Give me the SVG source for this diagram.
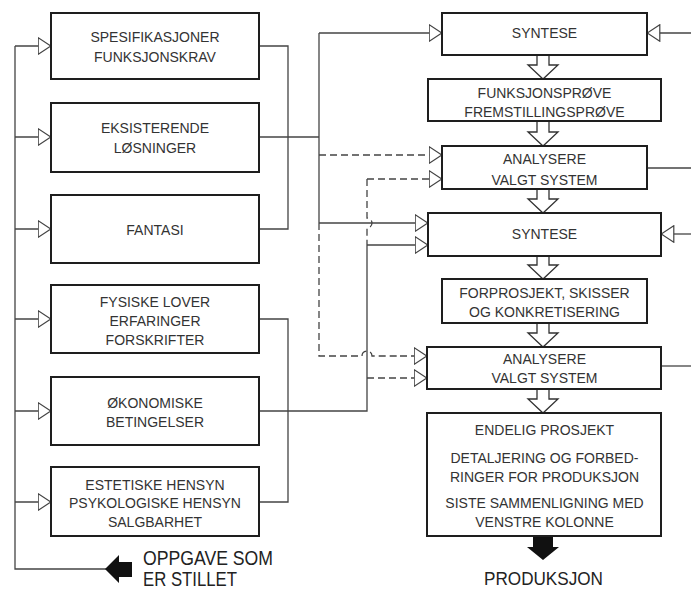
<svg xmlns="http://www.w3.org/2000/svg" width="691" height="590" viewBox="0 0 691 590">
<style>
.box{fill:#fff;stroke:#1e1e1e;stroke-width:2}
.t{font-family:"Liberation Sans",Arial,sans-serif;font-size:14px;fill:#333;text-anchor:middle}
.big{font-family:"Liberation Sans",Arial,sans-serif;font-size:20px;fill:#222}
.c{fill:none;stroke:#444;stroke-width:1.3}
.d{fill:none;stroke:#444;stroke-width:1.3;stroke-dasharray:7 4}
.ar{marker-end:url(#tri)}
.hollow{fill:#fff;stroke:#333;stroke-width:1.3}
.solid{fill:#111;stroke:none}
</style>
<defs>
<marker id="tri" viewBox="0 0 14 18" refX="13.5" refY="9" markerWidth="14" markerHeight="18" markerUnits="userSpaceOnUse" orient="auto">
<path d="M0.7,0.7 L13.3,9 L0.7,17.3 Z" fill="#fff" stroke="#444" stroke-width="1.2" stroke-dasharray="none"/>
</marker>
</defs>
<rect width="691" height="590" fill="#fff"/>

<g id="connectors">
<path class="c" d="M15,46 V569 H106"/>
<path class="c ar" d="M15,46 H51"/>
<path class="c ar" d="M15,137 H51"/>
<path class="c ar" d="M15,229 H51"/>
<path class="c ar" d="M15,319 H51"/>
<path class="c ar" d="M15,411 H51"/>
<path class="c ar" d="M15,502 H51"/>
<path class="c" d="M259,46 H288 V229 H259"/>
<path class="c" d="M259,319 H288 V502 H259"/>
<path class="c" d="M259,137 H319"/>
<path class="c" d="M319,33 V223"/>
<path class="c ar" d="M319,33 H442"/>
<path class="c ar" d="M319,223 H428"/>
<path class="d ar" d="M319,155 H442"/>
<path class="d" d="M367,179 V218 A5,5 0 0 1 367,228 V245"/>
<path class="d ar" d="M367,179 H442"/>
<path class="c" d="M259,411 H367 V245"/>
<path class="c ar" d="M367,245 H428"/>
<path class="d" d="M319,223 V356 H362 A5,5 0 0 1 372,356 H400"/>
<path class="d ar" d="M400,356 H427"/>
<path class="d ar" d="M367,378 H427"/>
<path class="c ar" d="M691,33 H647"/>
<path class="c" d="M647,168 H691"/>
<path class="c ar" d="M691,234 H661"/>
<path class="c" d="M661,366 H691"/>
<polyline class="hollow" points="537,55 537,65 528,65 543,79 558,65 549,65 549,55"/>
<polyline class="hollow" points="537,121 537,132 528,132 543,146 558,132 549,132 549,121"/>
<polyline class="hollow" points="537,189 537,199 528,199 543,213 558,199 549,199 549,189"/>
<polyline class="hollow" points="537,256 537,265 528,265 543,279 558,265 549,265 549,256"/>
<polyline class="hollow" points="537,323 537,333 528,333 543,347 558,333 549,333 549,323"/>
<polyline class="hollow" points="537,389 537,399 528,399 543,413 558,399 549,399 549,389"/>
<polygon class="solid" points="105,569 119,555 119,562 132,562 132,577 119,577 119,583"/>
<polygon class="solid" points="533,536 553,536 553,547 559,547 543,560 527,547 533,547"/>
</g>

<g id="n-spesifikasjoner">
<rect class="box" x="51" y="13" width="208" height="66"/>
<text class="t" x="155" y="42">SPESIFIKASJONER</text>
<text class="t" x="155" y="62">FUNKSJONSKRAV</text>
</g>
<g id="n-eksisterende">
<rect class="box" x="51" y="103" width="208" height="69"/>
<text class="t" x="155" y="133">EKSISTERENDE</text>
<text class="t" x="155" y="153">LØSNINGER</text>
</g>
<g id="n-fantasi">
<rect class="box" x="51" y="195" width="208" height="68"/>
<text class="t" x="155" y="235">FANTASI</text>
</g>
<g id="n-fysiske">
<rect class="box" x="51" y="285" width="208" height="68"/>
<text class="t" x="155" y="307">FYSISKE LOVER</text>
<text class="t" x="155" y="326">ERFARINGER</text>
<text class="t" x="155" y="345">FORSKRIFTER</text>
</g>
<g id="n-okonomiske">
<rect class="box" x="51" y="377" width="208" height="68"/>
<text class="t" x="155" y="408">ØKONOMISKE</text>
<text class="t" x="155" y="427">BETINGELSER</text>
</g>
<g id="n-estetiske">
<rect class="box" x="51" y="467" width="208" height="69"/>
<text class="t" x="155" y="490">ESTETISKE HENSYN</text>
<text class="t" x="155" y="508">PSYKOLOGISKE HENSYN</text>
<text class="t" x="155" y="527">SALGBARHET</text>
</g>
<g id="n-oppgave">
<text class="big" x="143" y="565" textLength="130" lengthAdjust="spacingAndGlyphs">OPPGAVE SOM</text>
<text class="big" x="143" y="586" textLength="94" lengthAdjust="spacingAndGlyphs">ER STILLET</text>
</g>

<g id="n-syntese1">
<rect class="box" x="442" y="13" width="205" height="42"/>
<text class="t" x="544.5" y="38">SYNTESE</text>
</g>
<g id="n-funksjonsprove">
<rect class="box" x="428" y="79" width="233" height="42"/>
<text class="t" x="544.5" y="98">FUNKSJONSPRØVE</text>
<text class="t" x="544.5" y="117">FREMSTILLINGSPRØVE</text>
</g>
<g id="n-analysere1">
<rect class="box" x="442" y="146" width="205" height="43"/>
<text class="t" x="544.5" y="164">ANALYSERE</text>
<text class="t" x="544.5" y="185">VALGT SYSTEM</text>
</g>
<g id="n-syntese2">
<rect class="box" x="428" y="213" width="233" height="43"/>
<text class="t" x="544.5" y="239">SYNTESE</text>
</g>
<g id="n-forprosjekt">
<rect class="box" x="442" y="279" width="205" height="44"/>
<text class="t" x="544.5" y="298">FORPROSJEKT, SKISSER</text>
<text class="t" x="544.5" y="317">OG KONKRETISERING</text>
</g>
<g id="n-analysere2">
<rect class="box" x="427" y="347" width="234" height="42"/>
<text class="t" x="544.5" y="364">ANALYSERE</text>
<text class="t" x="544.5" y="383">VALGT SYSTEM</text>
</g>
<g id="n-endelig">
<rect class="box" x="427" y="413" width="234" height="123"/>
<text class="t" x="544.5" y="435">ENDELIG PROSJEKT</text>
<text class="t" x="544.5" y="463">DETALJERING OG FORBED-</text>
<text class="t" x="544.5" y="482">RINGER FOR PRODUKSJON</text>
<text class="t" x="544.5" y="508">SISTE SAMMENLIGNING MED</text>
<text class="t" x="544.5" y="527">VENSTRE KOLONNE</text>
</g>
<g id="n-produksjon">
<text class="big" x="484" y="585" style="font-size:19px" textLength="119" lengthAdjust="spacingAndGlyphs">PRODUKSJON</text>
</g>
</svg>
